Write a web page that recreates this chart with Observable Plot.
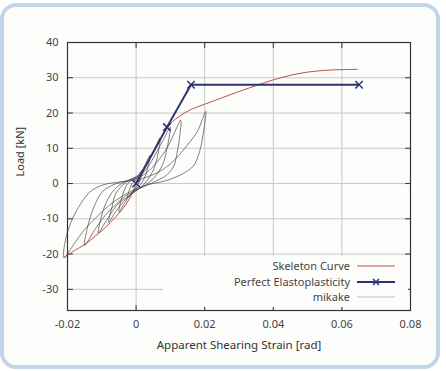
<!DOCTYPE html>
<html><head><meta charset="utf-8">
<script src="https://cdn.jsdelivr.net/npm/d3@7"></script>
<script src="https://cdn.jsdelivr.net/npm/@observablehq/plot@0.6"></script>
<style>
html,body{margin:0;padding:0;background:#fff;}
#wrap{position:relative;width:446px;height:371px;overflow:hidden;font-family:"Noto Sans",sans-serif;}
#box{position:absolute;left:0px;top:3px;width:432px;height:358px;border:4px solid #c3d5e9;border-radius:16px;background:#fdfdfc;}
#chart{position:absolute;left:0;top:0;}
#legend{position:absolute;left:163px;top:256px;width:245px;height:51px;background:#fdfdfc;font-size:11px;color:#444;}
.row{position:absolute;right:58px;height:14px;line-height:14px;white-space:nowrap;}
.samp{position:absolute;left:194px;width:38px;height:14px;}
</style></head><body>
<div id="wrap"><div id="box"></div><div id="chart"></div><div id="legend"></div></div>
<script>
const xTicks = [-0.02, 0, 0.02, 0.04, 0.06, 0.08];
const yTicks = [-30, -20, -10, 0, 10, 20, 30, 40];
const seriesNames = ["Skeleton Curve", "Perfect Elastoplasticity", "mikake"];
const seriesColors = ["#c0504a", "#2b3470", "#8a8a8a"];

const skeleton = [[-0.021,-21],[-0.018,-19],[-0.015,-17.3],[-0.012,-15],[-0.009,-12.5],[-0.006,-9.5],[-0.003,-6],[-0.001,-2.5],[0,0],
 [0.002,4],[0.005,9],[0.008,14],[0.01,17],[0.013,19.3],[0.016,21],[0.02,22.5],[0.025,24.3],[0.03,26.1],[0.035,27.8],[0.04,29.4],
 [0.045,30.7],[0.05,31.6],[0.055,32.1],[0.06,32.3],[0.0645,32.4]];

const elastoplastic = [[0,0],[0.009,16],[0.016,28],[0.065,28]];

const cycle1 = [[0,-1],[0.001,0.5],[0.002,4],[0.001,2.5],[0,1.2],[-0.0012,0],[-0.0025,-4],[-0.0012,-2.5],[0,-1]];
const cycle2 = [[0,-1.5],[0.0015,0],[0.003,3],[0.004,8],[0.0025,5],[0.001,2.5],[0,1.5],[-0.002,0.5],[-0.0035,-2],[-0.005,-8],[-0.003,-5],[-0.0015,-3],[0,-1.5]];
const cycle3 = [[0,-2],[0.002,-0.5],[0.004,2],[0.0055,5],[0.0065,9],[0.007,13],[0.0055,10],[0.004,7],[0.002,4],[0,2],
 [-0.002,1],[-0.004,-0.5],[-0.006,-3],[-0.007,-6.5],[-0.008,-11],[-0.006,-8],[-0.004,-5.5],[-0.002,-3.5],[0,-2]];
const cycle4 = [[0,-2],[0.002,-0.8],[0.004,0.5],[0.006,2.5],[0.008,6],[0.009,10],[0.0098,14],[0.01,16],
 [0.008,12.5],[0.006,9],[0.004,5.5],[0.002,3],[0,1.8],
 [-0.003,0.6],[-0.005,-0.5],[-0.007,-2.5],[-0.009,-6],[-0.0103,-10],[-0.011,-14],
 [-0.009,-11],[-0.007,-8],[-0.005,-5.5],[-0.002,-3.5],[0,-2]];
const cycle5 = [[0,-1.8],[0.003,-0.5],[0.006,0.8],[0.009,2.5],[0.011,5],[0.012,9],[0.0128,14],[0.013,18],
 [0.011,14],[0.009,10],[0.006,6],[0.003,3],[0,1.5],
 [-0.004,0.5],[-0.007,-0.5],[-0.01,-2.5],[-0.012,-6],[-0.0138,-11],[-0.015,-17.5],
 [-0.012,-13],[-0.009,-9],[-0.006,-6],[-0.003,-3.5],[0,-1.8]];
const cycle6 = [[0,-1.5],[0.004,-0.2],[0.008,0.6],[0.011,1.6],[0.014,3],[0.0167,5],[0.0185,9],[0.0197,15],[0.0203,20.5],
 [0.018,15],[0.015,11],[0.011,6.5],[0.007,3.5],[0.003,1.8],[0,1],
 [-0.005,0.4],[-0.009,-0.2],[-0.013,-2],[-0.016,-5.5],[-0.019,-11],[-0.0208,-17],[-0.021,-21],
 [-0.018,-17],[-0.015,-13],[-0.011,-9],[-0.007,-5.5],[-0.003,-3],[0,-1.5]];
const cycles = [cycle1, cycle2, cycle3, cycle4, cycle5, cycle6];

const mikake = cycles.flatMap((c, i) => c.map(([x, y]) => ({x, y, c: i})));
const skel = skeleton.map(([x, y]) => ({x, y}));
const ep = elastoplastic.map(([x, y]) => ({x, y}));

const fmt = d => d === 0 ? "0" : String(d);
const tickShape = {draw(context, l) { context.moveTo(0, 0); context.lineTo(0, -l); }};
const tickOpts = {length: 5, anchor: "start", shape: tickShape, stroke: "#333", strokeWidth: 1};
const chart = Plot.plot({
  width: 446, height: 371,
  marginLeft: 67, marginRight: 36, marginTop: 42, marginBottom: 61,
  style: {background: "transparent", fontFamily: "Noto Sans, sans-serif", fontSize: "11px", color: "#444"},
  x: {domain: [-0.02, 0.08]},
  y: {domain: [-36, 40]},
  marks: [
    Plot.gridX(xTicks, {stroke: "#c8c8c8", strokeOpacity: 1}),
    Plot.gridY(yTicks, {stroke: "#c8c8c8", strokeOpacity: 1}),
    Plot.axisX(xTicks, {anchor: "bottom", tickSize: 0, tickPadding: 10, tickFormat: fmt, label: null}),
    Plot.axisY(yTicks, {anchor: "left", tickSize: 0, tickPadding: 9, tickFormat: fmt, label: null}),
    Plot.vector(xTicks, {x: d => d, frameAnchor: "bottom", rotate: 0, ...tickOpts}),
    Plot.vector(xTicks, {x: d => d, frameAnchor: "top", rotate: 180, ...tickOpts}),
    Plot.vector(yTicks, {y: d => d, frameAnchor: "left", rotate: 90, ...tickOpts}),
    Plot.vector(yTicks, {y: d => d, frameAnchor: "right", rotate: 270, ...tickOpts}),
    Plot.line(skel, {x: "x", y: "y", stroke: seriesColors[0], strokeWidth: 1, curve: "catmull-rom"}),
    Plot.line(mikake, {x: "x", y: "y", z: "c", stroke: "#444", strokeWidth: 0.8, strokeOpacity: 0.85, curve: "catmull-rom"}),
    Plot.line(ep, {x: "x", y: "y", stroke: seriesColors[1], strokeWidth: 2}),
    Plot.dot(ep, {x: "x", y: "y", symbol: "times", r: 3.5, stroke: seriesColors[1], strokeWidth: 1.5}),
    Plot.frame({stroke: "#333", strokeWidth: 1.2}),
    Plot.text(["Load [kN]"], {frameAnchor: "left", dx: -47, rotate: -90, fill: "#333", fontSize: 11}),
    Plot.text(["Apparent Shearing Strain [rad]"], {frameAnchor: "bottom", dy: 38, fill: "#333", fontSize: 11.5})
  ]
});
document.getElementById("chart").appendChild(chart);

const leg = document.getElementById("legend");
seriesNames.forEach((name, i) => {
  const top = 3 + i * 15.5;
  const r = document.createElement("div");
  r.className = "row"; r.style.top = top + "px"; r.textContent = name;
  leg.appendChild(r);
  const s = document.createElementNS("http://www.w3.org/2000/svg", "svg");
  s.setAttribute("class", "samp"); s.style.top = top + "px";
  s.setAttribute("width", 38); s.setAttribute("height", 14);
  const sw = i === 1 ? 2 : 1.2;
  s.innerHTML = `<line x1="0" x2="38" y1="7" y2="7" stroke="${i===2 ? "#bdbdbd" : seriesColors[i]}" stroke-width="${sw}"/>` +
    (i === 1 ? `<path d="M16,4L22,10M22,4L16,10" stroke="${seriesColors[1]}" stroke-width="1.5"/>` : "");
  leg.appendChild(s);
});
</script></body></html>
